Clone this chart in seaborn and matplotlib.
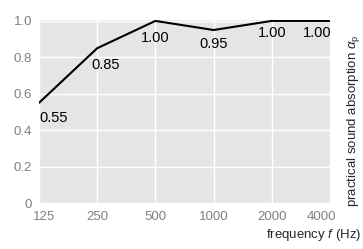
import matplotlib
matplotlib.use("Agg")
import matplotlib.pyplot as plt
import matplotlib.transforms as mtransforms
import seaborn as sns

freqs = ["125", "250", "500", "1000", "2000", "4000"]
alpha_p = [0.55, 0.85, 1.00, 0.95, 1.00, 1.00]
value_labels = ["0.55", "0.85", "1.00", "0.95", "1.00", "1.00"]
y_ticks = [0, 0.2, 0.4, 0.6, 0.8, 1.0]
y_ticklabels = ["0", "0.2", "0.4", "0.6", "0.8", "1.0"]

sns.set_style("darkgrid", {"axes.facecolor": "#e5e5e7", "grid.color": "white"})
plt.rcParams["font.family"] = ["Liberation Sans", "DejaVu Sans"]
plt.rcParams["mathtext.fontset"] = "custom"
plt.rcParams["mathtext.it"] = "Liberation Sans:italic"
plt.rcParams["mathtext.rm"] = "Liberation Sans"

fig = plt.figure(figsize=(3.63, 2.49), dpi=100)
ax = fig.add_axes([39 / 363, 46 / 249, 291 / 363, 183 / 249])

x = list(range(len(freqs)))
sns.lineplot(x=x, y=alpha_p, ax=ax, color="black", linewidth=1.5)

ax.set_xlim(0, len(freqs) - 1)
ax.set_ylim(0, 1.005)
ax.set_xticks(x)
ax.set_xticklabels(freqs)
ax.set_yticks(y_ticks)
ax.set_yticklabels(y_ticklabels)
ax.tick_params(colors="#808080", labelsize=9.5, length=0)
ax.tick_params(axis="x", pad=6)
ax.tick_params(axis="y", pad=5)
ax.grid(True, color="white", linewidth=1)
for s in ax.spines.values():
    s.set_visible(False)

# nudge the outer frequency labels inward
xlabels = ax.get_xticklabels()
xlabels[0].set_transform(xlabels[0].get_transform()
                         + mtransforms.ScaledTranslation(5 / 100, 0, fig.dpi_scale_trans))
xlabels[-1].set_transform(xlabels[-1].get_transform()
                          + mtransforms.ScaledTranslation(-9 / 100, 0, fig.dpi_scale_trans))

aligns = ["left", "left", "center", "center", "center", "right"]
dxs = [0, -4, 0, 0, 0, 1]
dys = [-11, -12, -12, -10, -9, -9]
for xi, yi, lab, ha, dx, dy in zip(x, alpha_p, value_labels, aligns, dxs, dys):
    ax.annotate(lab, (xi, yi), xytext=(dx, dy), textcoords="offset points",
                ha=ha, va="center", fontsize=10.5, color="black")

fig.text(361 / 363, 1 - 235 / 249, "frequency $\\it{f}$ (Hz)", ha="right", va="center",
         fontsize=9.5)
fig.text(353 / 363, 1 - 121 / 249, "practical sound absorption $\\alpha_\\mathrm{p}$",
         rotation=90, ha="center", va="center", fontsize=9.5)

fig.savefig("out.png", dpi=100)
